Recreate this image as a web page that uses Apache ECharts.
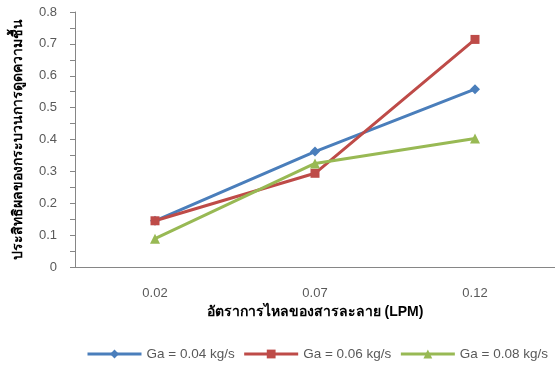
<!DOCTYPE html>
<html>
<head>
<meta charset="utf-8">
<script src="https://cdn.jsdelivr.net/npm/echarts@6/dist/echarts.min.js"></script>
<style>
html,body{margin:0;padding:0;background:#fff;}
#chart{width:555px;height:365px;}
</style>
</head>
<body>
<div id="chart"></div>
<script>
// Flow rate of the desiccant solution (LPM)
const categories = ['0.02', '0.07', '0.12'];
// Dehumidification effectiveness for each air flow rate
const ga004 = [0.145, 0.362, 0.558];
const ga006 = [0.145, 0.294, 0.714];
const ga008 = [0.089, 0.325, 0.403];
const seriesNames = ['Ga = 0.04 kg/s', 'Ga = 0.06 kg/s', 'Ga = 0.08 kg/s'];
const yTicks = [0, 0.1, 0.2, 0.3, 0.4, 0.5, 0.6, 0.7, 0.8];

const FONT = '"Liberation Sans", Arial, sans-serif';
const axisColor = '#868686';
const textColor = '#595959';

const chart = echarts.init(document.getElementById('chart'));

function line(name, data, color, symbol, size) {
  return {
    name, type: 'line', data,
    symbol, symbolSize: size,
    lineStyle: { color, width: 3 },
    itemStyle: { color },
    emphasis: { disabled: true },
    animation: false
  };
}

chart.setOption({
  animation: false,
  textStyle: { fontFamily: FONT },
  grid: { left: 75, right: 0, top: 12, bottom: 98 },
  xAxis: {
    type: 'category',
    data: categories,
    boundaryGap: true,
    name: 'อัตราการไหลของสารละลาย (LPM)',
    nameLocation: 'middle',
    nameGap: 38,
    nameTextStyle: { fontFamily: FONT, fontSize: 14, fontWeight: 'bold', color: '#000' },
    axisLine: { lineStyle: { color: axisColor, width: 1 } },
    axisTick: { alignWithLabel: true, length: 5, lineStyle: { color: axisColor } },
    axisLabel: { fontFamily: FONT, fontSize: 13, color: textColor, margin: 20 }
  },
  yAxis: {
    type: 'value',
    min: yTicks[0],
    max: yTicks[yTicks.length - 1],
    interval: 0.1,
    name: 'ประสิทธิผลของกระบวนการดูดความชื้น',
    nameLocation: 'middle',
    nameGap: 50,
    nameRotate: 90,
    nameTextStyle: { fontFamily: FONT, fontSize: 14, fontWeight: 'bold', color: '#000' },
    axisLine: { show: true, lineStyle: { color: axisColor, width: 1 } },
    axisTick: { show: true, length: 5, lineStyle: { color: axisColor } },
    minorTick: { show: true, splitNumber: 2, length: 5, lineStyle: { color: axisColor } },
    splitLine: { show: false },
    axisLabel: {
      fontFamily: FONT, fontSize: 13, color: textColor, margin: 18,
      formatter: v => (Math.round(v * 10) / 10).toString()
    }
  },
  legend: {
    bottom: 4,
    left: 86,
    width: 469,
    padding: 0,
    itemWidth: 54,
    itemHeight: 11,
    itemGap: 8,
    lineStyle: { width: 3 },
    textStyle: { fontFamily: FONT, fontSize: 13.5, color: textColor },
    data: seriesNames
  },
  series: [
    line(seriesNames[0], ga004, '#4a7ebb', 'diamond', 10),
    line(seriesNames[1], ga006, '#be4b48', 'rect', 9),
    line(seriesNames[2], ga008, '#98b954', 'triangle', 10)
  ]
});
</script>
</body>
</html>
